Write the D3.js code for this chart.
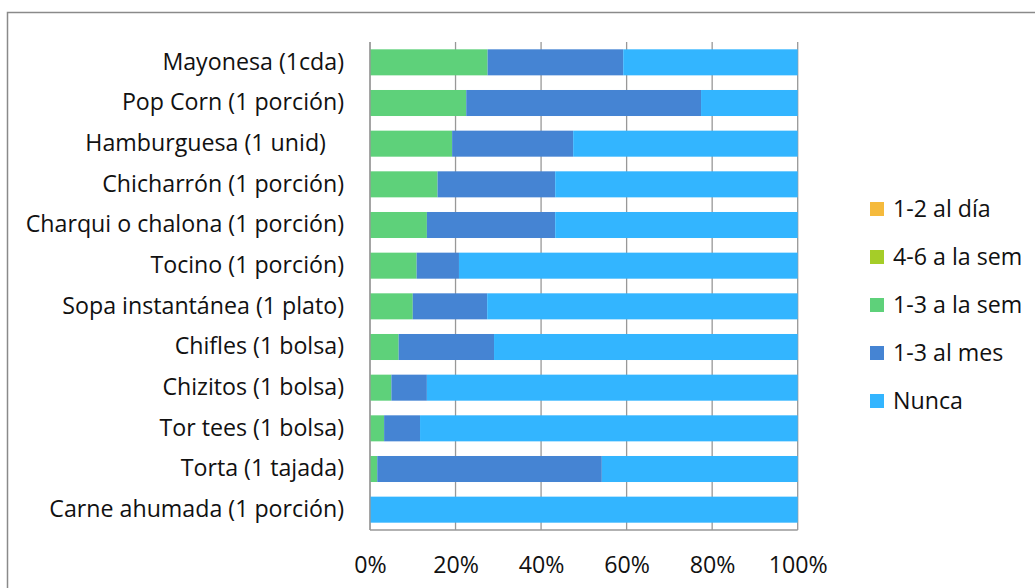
<!DOCTYPE html>
<html>
<head>
<meta charset="utf-8">
<script src="https://cdn.jsdelivr.net/npm/d3@7"></script>
<style>
  html, body { margin: 0; padding: 0; background: #fff; }
  svg text { font-family: "Open Sans", Lato, sans-serif; fill: #111; white-space: pre; }
</style>
</head>
<body>
<svg id="chart" width="1035" height="588"></svg>
<script>
// Food items, top to bottom
const categories = [
  "Mayonesa (1cda)",
  "Pop Corn (1 porción)",
  "Hamburguesa (1 unid)   ",
  "Chicharrón (1 porción)",
  "Charqui o chalona (1 porción)",
  "Tocino (1 porción)",
  "Sopa instantánea (1 plato)",
  "Chifles (1 bolsa)",
  "Chizitos (1 bolsa)",
  "Tor tees (1 bolsa)",
  "Torta (1 tajada)",
  "Carne ahumada (1 porción)"
];

// Consumption frequency series (percent of respondents)
const seriesNames = ["1-2 al día", "4-6 a la sem", "1-3 a la sem", "1-3 al mes", "Nunca"];
const alDia    = [0, 0, 0, 0, 0, 0, 0, 0, 0, 0, 0, 0];
const aLaSem46 = [0, 0, 0, 0, 0, 0, 0, 0, 0, 0, 0, 0];
const aLaSem13 = [27.5, 22.5, 19.2, 15.8, 13.3, 10.9, 10.0, 6.7, 5.0, 3.3, 1.7, 0];
const alMes    = [31.7, 54.9, 28.3, 27.5, 30.0, 9.9, 17.4, 22.3, 8.3, 8.4, 52.5, 0];
const nunca    = [40.8, 22.6, 52.5, 56.7, 56.7, 79.2, 72.6, 71.0, 86.7, 88.3, 45.8, 100];
const seriesValues = [alDia, aLaSem46, aLaSem13, alMes, nunca];
const colors = ["#F5BA3C", "#A5CD28", "#5ED17A", "#4584D3", "#33B5FF"];
const tickValues = [0, 20, 40, 60, 80, 100];

const fontSize = 23.2;
const svg = d3.select("#chart");

// outer chart frame
svg.append("rect")
  .attr("x", 7.5).attr("y", 12.5)
  .attr("width", 1040).attr("height", 600)
  .attr("fill", "#fff").attr("stroke", "#8a8a8a").attr("stroke-width", 1.5);

const plot = { left: 370, right: 797.7, top: 42, bottom: 530 };

const x = d3.scaleLinear().domain([0, 100]).range([plot.left, plot.right]);
const y = d3.scaleBand().domain(categories).range([plot.top, plot.bottom]).paddingInner(0.36).paddingOuter(0.18);

// vertical gridlines
svg.append("g").selectAll("line").data(tickValues).join("line")
  .attr("x1", d => x(d)).attr("x2", d => x(d))
  .attr("y1", plot.top).attr("y2", plot.bottom)
  .attr("stroke", "#989898").attr("stroke-width", 1.3);

// stacked bars
const rows = categories.map((c, i) => {
  const r = { cat: c };
  seriesNames.forEach((s, k) => { r[s] = seriesValues[k][i]; });
  return r;
});
const stacked = d3.stack().keys(seriesNames)(rows);

svg.append("g").selectAll("g").data(stacked).join("g")
  .attr("fill", (d, k) => colors[k])
  .selectAll("rect").data(d => d).join("rect")
  .attr("x", d => x(d[0]))
  .attr("width", d => Math.max(0, x(d[1]) - x(d[0])))
  .attr("y", d => y(d.data.cat))
  .attr("height", y.bandwidth());

// axis lines
svg.append("line")
  .attr("x1", plot.left).attr("x2", plot.left)
  .attr("y1", plot.top).attr("y2", plot.bottom)
  .attr("stroke", "#989898").attr("stroke-width", 1.3);
svg.append("line")
  .attr("x1", plot.left).attr("x2", plot.right)
  .attr("y1", plot.bottom).attr("y2", plot.bottom)
  .attr("stroke", "#989898").attr("stroke-width", 1.3);

// value axis labels
const xAxis = d3.axisBottom(x).tickValues(tickValues).tickFormat(d => d + "%").tickSize(0).tickPadding(0);
const gx = svg.append("g").attr("transform", `translate(0, 565)`).call(xAxis);
gx.select(".domain").remove();
gx.selectAll("text").attr("font-size", fontSize).attr("dy", "0.35em")
  .style("font-family", "'Open Sans', Lato, sans-serif").style("fill", "#111");

// category labels
const yAxis = d3.axisLeft(y).tickSize(0).tickPadding(0);
const gy = svg.append("g").attr("transform", `translate(344, 0)`).call(yAxis);
gy.select(".domain").remove();
gy.selectAll("text").attr("font-size", fontSize)
  .style("font-family", "'Open Sans', Lato, sans-serif").style("fill", "#111")
  .style("white-space", "pre");

// legend
const legend = svg.append("g").selectAll("g").data(seriesNames).join("g")
  .attr("transform", (d, k) => `translate(870, ${209 + k * 48})`);
legend.append("rect")
  .attr("x", 0).attr("y", -7).attr("width", 14).attr("height", 14)
  .attr("fill", (d, k) => colors[k]);
legend.append("text")
  .attr("x", 23).attr("y", 0).attr("dy", "0.35em")
  .attr("font-size", fontSize)
  .text(d => d);
</script>
</body>
</html>
